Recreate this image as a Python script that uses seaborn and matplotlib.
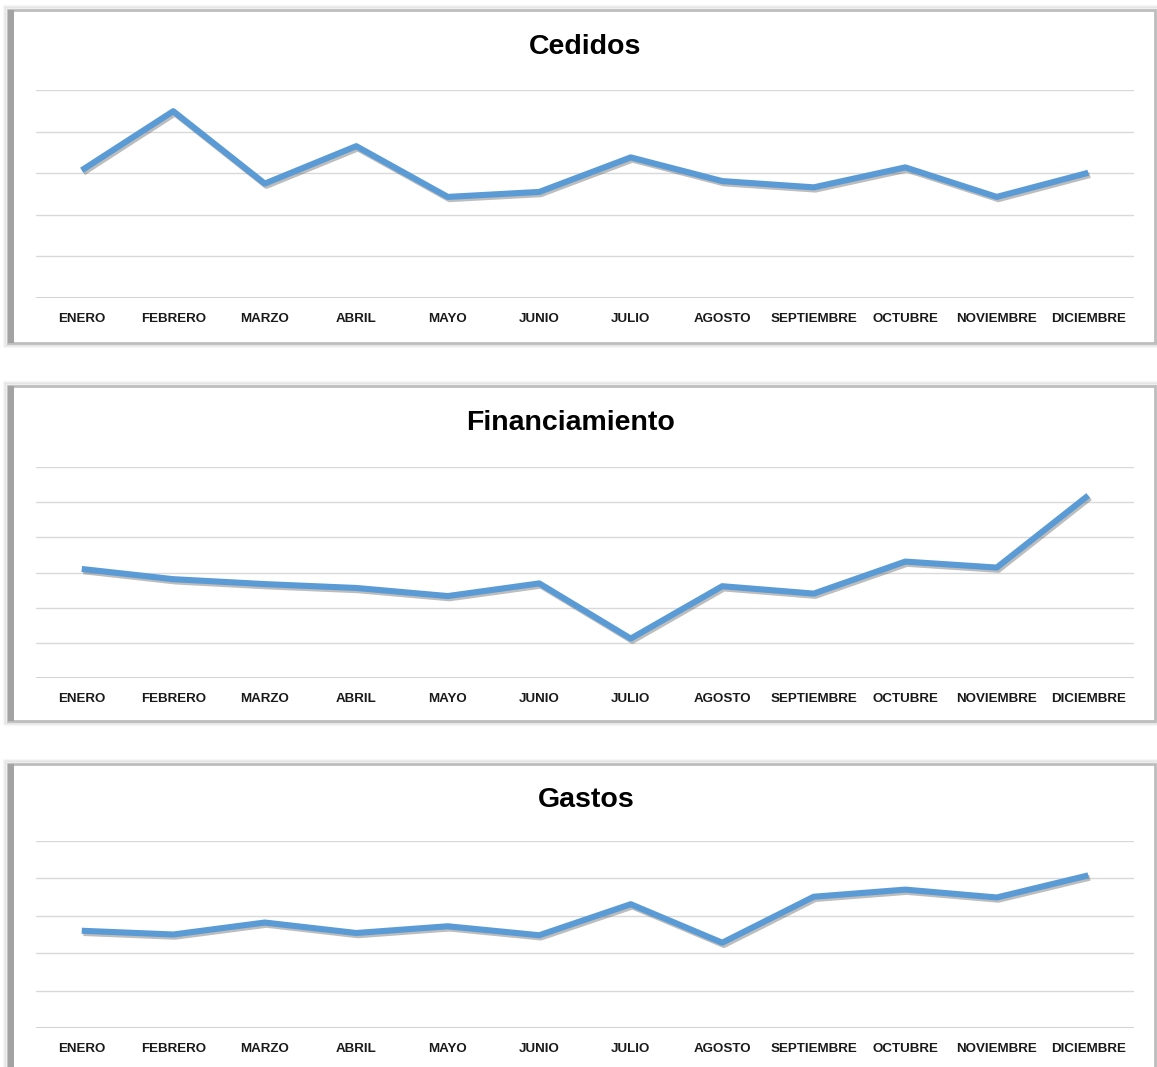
import matplotlib
matplotlib.use("Agg")
import matplotlib.pyplot as plt
import matplotlib.patheffects as pe
from matplotlib.patches import Rectangle
from matplotlib import font_manager
import seaborn as sns
import pandas as pd

meses = ["ENERO", "FEBRERO", "MARZO", "ABRIL", "MAYO", "JUNIO", "JULIO",
         "AGOSTO", "SEPTIEMBRE", "OCTUBRE", "NOVIEMBRE", "DICIEMBRE"]
cedidos = [3.07, 4.49, 2.75, 3.65, 2.43, 2.55, 3.38, 2.81, 2.66, 3.14, 2.43, 3.01]
financiamiento = [3.10, 2.81, 2.67, 2.56, 2.33, 2.69, 1.12, 2.61, 2.40, 3.31, 3.14, 5.19]
gastos = [2.60, 2.50, 2.82, 2.54, 2.72, 2.48, 3.31, 2.28, 3.51, 3.70, 3.49, 4.08]
titulos = ["Cedidos", "Financiamiento", "Gastos"]
grid_max = [5, 6, 5]

sns.set_theme(style="white")
available = {f.name for f in font_manager.fontManager.ttflist}
fam = [f for f in ["Liberation Sans Narrow", "Liberation Sans", "DejaVu Sans"] if f in available]
plt.rcParams["font.family"] = fam

W, H = 1157, 1067
fig = plt.figure(figsize=(W / 100, H / 100), dpi=100)
fig.patch.set_facecolor("white")

def fx(px):
    return px / W

def fy(py):
    return 1 - py / H

# panel frames (pixel boxes: left, top, right, bottom)
frames = [(8, 10, 1155, 343), (8, 386, 1155, 721), (8, 764, 1155, 1075)]
for (l, t, r, b) in frames:
    for k, a in [(4, 0.06), (3, 0.08), (2, 0.12)]:
        fig.patches.append(Rectangle((fx(l - k), fy(b + k)), fx(r - l + 2 * k), (b - t + 2 * k) / H,
                                     transform=fig.transFigure, facecolor="none",
                                     edgecolor="#808080", lw=1.5, alpha=a, zorder=0))
    fig.patches.append(Rectangle((fx(l), fy(b)), fx(r - l), (b - t) / H,
                                 transform=fig.transFigure, facecolor="white",
                                 edgecolor="#BDBDBD", lw=2.0, zorder=0.5))
    fig.patches.append(Rectangle((fx(l), fy(b)), fx(6), (b - t) / H,
                                 transform=fig.transFigure, facecolor="#A3A3A3",
                                 edgecolor="none", zorder=0.6))

axboxes = [(36, 90, 1134, 298), (36, 467, 1134, 678), (36, 841, 1134, 1028)]
title_pos = [(585, 47), (571, 423), (586, 800)]
series = [cedidos, financiamiento, gastos]

for i, ((l, t, r, b), vals) in enumerate(zip(axboxes, series)):
    ax = fig.add_axes([fx(l), fy(b), fx(r - l), (b - t) / H])
    ax.set_zorder(2)
    ax.set_facecolor("none")
    df = pd.DataFrame({"mes": meses, "valor": vals})
    sns.lineplot(data=df, x="mes", y="valor", ax=ax, color="#5B9BD5", lw=4.4,
                 sort=False, solid_capstyle="butt", solid_joinstyle="round",
                 path_effects=[pe.SimpleLineShadow(offset=(1.2, -1.6), shadow_color="#5A5A5A", alpha=0.4),
                               pe.Normal()])
    ax.set_xlim(-0.5, 11.5)
    ax.set_ylim(0, grid_max[i])
    ax.set_yticks(range(0, grid_max[i] + 1))
    ax.set_yticklabels([])
    ax.grid(axis="y", color="#D9D9D9", lw=1.0)
    ax.grid(axis="x", visible=False)
    for s in ax.spines.values():
        s.set_visible(False)
    ax.axhline(0, color="#D0D0D0", lw=1.3, zorder=1)
    ax.set_xlabel("")
    ax.set_ylabel("")
    ax.tick_params(axis="both", length=0)
    ax.tick_params(axis="x", pad=11)
    for lab in ax.get_xticklabels():
        lab.set_fontsize(9.6)
        lab.set_fontweight("bold")
        lab.set_color("#1A1A1A")
    tx, ty = title_pos[i]
    fig.text(fx(tx), fy(ty), titulos[i], ha="center", va="center",
             fontsize=20.5, fontweight="bold", color="black", zorder=3)

fig.savefig("out.png", dpi=100, facecolor="white")
